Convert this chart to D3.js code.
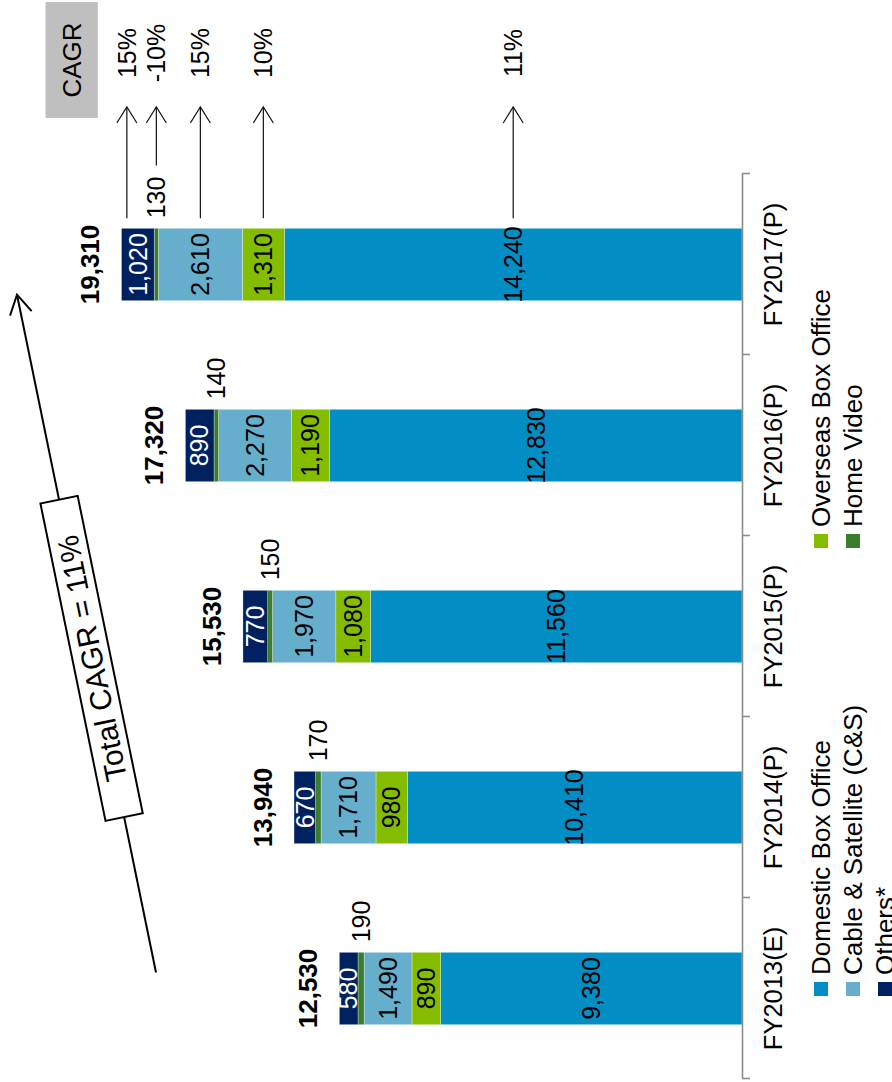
<!DOCTYPE html>
<html>
<head>
<meta charset="utf-8">
<script src="https://cdn.jsdelivr.net/npm/d3@7"></script>
<style>
  html, body { margin: 0; padding: 0; background: #fff; overflow: hidden; }
  svg text { font-family: "Liberation Sans", Arial, Helvetica, sans-serif; }
</style>
</head>
<body>
<svg id="chart" width="892" height="1082"></svg>
<script>
// Revenue by stream (INR crore), stacked per fiscal year
const categories = ["FY2013(E)", "FY2014(P)", "FY2015(P)", "FY2016(P)", "FY2017(P)"];
const domesticBoxOffice = [9380, 10410, 11560, 12830, 14240];
const overseasBoxOffice = [890, 980, 1080, 1190, 1310];
const cableSatellite    = [1490, 1710, 1970, 2270, 2610];
const homeVideo         = [190, 170, 150, 140, 130];
const others            = [580, 670, 770, 890, 1020];
const totals            = [12530, 13940, 15530, 17320, 19310];

const seriesNames = ["Domestic Box Office", "Overseas Box Office", "Cable & Satellite (C&S)", "Home Video", "Others*"];
const seriesCagr  = ["11%", "10%", "15%", "-10%", "15%"];
const totalCagrLabel = "Total CAGR = 11%";

const colors = ["#028DC5", "#84BC00", "#65AFCD", "#3A7D2E", "#00215F"];
const labelColors = ["#000", "#000", "#000", "#000", "#fff"];

const W = 892, H = 1082;
const svg = d3.select("#chart");

// The chart is laid out as a column chart, then turned a quarter turn
// counter-clockwise so the columns grow leftwards from the axis.
const g = svg.append("g").attr("transform", `translate(0,${H}) rotate(-90)`);

const x = d3.scaleBand().domain(categories).range([3, 908]).paddingInner(0.6).paddingOuter(0.3);
const y = d3.scaleLinear().domain([0, 23090]).range([742, 0]);
const bw = x.bandwidth();
const fontSize = 25;

const seriesValues = [domesticBoxOffice, overseasBoxOffice, cableSatellite, homeVideo, others];
const rows = categories.map((c, i) => {
  const r = { category: c };
  seriesNames.forEach((s, si) => { r[s] = seriesValues[si][i]; });
  return r;
});
const stacked = d3.stack().keys(seriesNames)(rows);

// Stacked bars
g.append("g").selectAll("g").data(stacked).join("g")
  .attr("fill", (d, i) => colors[i])
  .selectAll("rect").data(d => d).join("rect")
  .attr("x", d => x(d.data.category))
  .attr("width", bw)
  .attr("y", d => y(d[1]))
  .attr("height", d => y(d[0]) - y(d[1]))
  .attr("stroke", "#ffffff")
  .attr("stroke-opacity", 0.5)
  .attr("stroke-width", 0.6);

// Segment value labels
const hvIndex = seriesNames.indexOf("Home Video");
const hvLabelEnds = [];
stacked.forEach((s, si) => {
  s.forEach((d, ci) => {
    const mid = (y(d[0]) + y(d[1])) / 2;
    const val = d3.format(",")(d[1] - d[0]);
    if (si === hvIndex) {
      const t = g.append("text")
        .attr("x", x(d.data.category) + bw + 10)
        .attr("y", mid)
        .attr("dy", "0.35em")
        .attr("text-anchor", "start")
        .attr("font-size", fontSize)
        .attr("fill", "#000")
        .text(val);
      hvLabelEnds[ci] = x(d.data.category) + bw + 10 + t.node().getComputedTextLength();
    } else {
      g.append("text")
        .attr("x", x(d.data.category) + bw / 2)
        .attr("y", mid)
        .attr("dy", "0.35em")
        .attr("text-anchor", "middle")
        .attr("font-size", fontSize)
        .attr("fill", labelColors[si])
        .text(val);
    }
  });
});

// Totals above each column
g.append("g").selectAll("text").data(categories).join("text")
  .attr("x", c => x(c) + bw / 2)
  .attr("y", (c, i) => y(totals[i]) - 22)
  .attr("text-anchor", "middle")
  .attr("font-size", 26)
  .attr("font-weight", "bold")
  .attr("fill", "#000")
  .text((c, i) => d3.format(",")(totals[i]));

// Category axis with ticks at the column boundaries
const edges = d3.scaleLinear().domain([0, categories.length]).range([3, 908]);
const axis = g.append("g").attr("transform", `translate(0,${y(0)})`)
  .call(d3.axisBottom(edges).tickValues(d3.range(categories.length + 1))
    .tickFormat("").tickSize(8).tickSizeOuter(0));
axis.selectAll("path, line").attr("stroke", "#8C8C8C").attr("stroke-width", 1.6);

g.append("g").selectAll("text").data(categories).join("text")
  .attr("x", c => x(c) + bw / 2)
  .attr("y", 782)
  .attr("text-anchor", "middle")
  .attr("font-size", 25.5)
  .attr("fill", "#000")
  .text(c => c);

// Legend (two columns)
const legendItems = [
  { si: 0, col: 0, row: 0 },
  { si: 2, col: 0, row: 1 },
  { si: 4, col: 0, row: 2 },
  { si: 1, col: 1, row: 0 },
  { si: 3, col: 1, row: 1 }
];
const legendCols = [86, 534];
const legendRows = [821, 853, 885];
const lg = g.append("g").selectAll("g").data(legendItems).join("g")
  .attr("transform", d => `translate(${legendCols[d.col]},${legendRows[d.row]})`);
lg.append("rect").attr("x", 0).attr("y", -7).attr("width", 14).attr("height", 14)
  .attr("fill", d => colors[d.si]);
lg.append("text").attr("x", 21).attr("y", 0).attr("dy", "0.35em")
  .attr("font-size", 26).attr("fill", "#000")
  .text(d => seriesNames[d.si]);

// CAGR arrows for each stream, drawn from the last column
const last = stacked.map(s => s[s.length - 1]);
const lastCat = categories[categories.length - 1];
const arrowNudge = [0, 0, 0, 0, -11];
const tipX = 975;
const cagrG = g.append("g");
last.forEach((d, si) => {
  const cy = (y(d[0]) + y(d[1])) / 2 + arrowNudge[si];
  const start = si === hvIndex ? hvLabelEnds[categories.length - 1] + 11 : x(lastCat) + bw + 10;
  cagrG.append("line")
    .attr("x1", start).attr("y1", cy).attr("x2", tipX).attr("y2", cy)
    .attr("stroke", "#111").attr("stroke-width", 1.2);
  cagrG.append("path")
    .attr("d", `M${tipX - 16},${cy - 10}L${tipX},${cy}L${tipX - 16},${cy + 10}`)
    .attr("fill", "none").attr("stroke", "#111").attr("stroke-width", 1.2);
  cagrG.append("text")
    .attr("x", 1029).attr("y", cy).attr("dy", "0.35em")
    .attr("text-anchor", "middle").attr("font-size", fontSize).attr("fill", "#000")
    .text(seriesCagr[si]);
});

// "CAGR" header box
cagrG.append("rect").attr("x", 964).attr("y", 45.5).attr("width", 116).attr("height", 52.3)
  .attr("fill", "#BFBFBF");
cagrG.append("text").attr("x", 1022).attr("y", 71.6).attr("dy", "0.35em")
  .attr("text-anchor", "middle").attr("font-size", 26).attr("fill", "#000").text("CAGR");

// Overall growth arrow across the columns
const p0 = [x(categories[0]) + bw / 2 + 16, 156];
const p1 = [x(lastCat) + 6, 17];
const ang = Math.atan2(p1[1] - p0[1], p1[0] - p0[0]);
const tg = g.append("g");
tg.append("line")
  .attr("x1", p0[0]).attr("y1", p0[1]).attr("x2", p1[0]).attr("y2", p1[1])
  .attr("stroke", "#000").attr("stroke-width", 2);
const head = 22, spread = Math.PI / 6;
tg.append("path")
  .attr("d", `M${p1[0] - head * Math.cos(ang - spread)},${p1[1] - head * Math.sin(ang - spread)}` +
             `L${p1[0]},${p1[1]}` +
             `L${p1[0] - head * Math.cos(ang + spread)},${p1[1] - head * Math.sin(ang + spread)}`)
  .attr("fill", "none").attr("stroke", "#000").attr("stroke-width", 2);
const t = (423.6 - p0[0]) / (p1[0] - p0[0]);
const bc = [p0[0] + t * (p1[0] - p0[0]), p0[1] + t * (p1[1] - p0[1])];
const box = tg.append("g")
  .attr("transform", `translate(${bc[0]},${bc[1]}) rotate(${ang * 180 / Math.PI})`);
box.append("rect").attr("x", -162).attr("y", -19).attr("width", 324).attr("height", 38)
  .attr("fill", "#fff").attr("stroke", "#000").attr("stroke-width", 2);
box.append("text").attr("x", 0).attr("y", 0).attr("dy", "0.36em")
  .attr("text-anchor", "middle").attr("font-size", 30).attr("fill", "#000")
  .text(totalCagrLabel);
</script>
</body>
</html>
